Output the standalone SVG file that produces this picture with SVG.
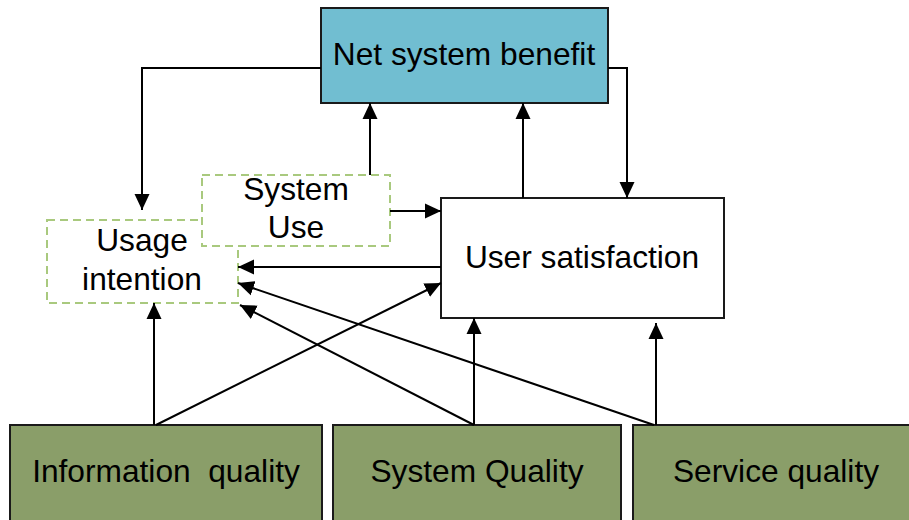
<svg xmlns="http://www.w3.org/2000/svg" width="909" height="520" viewBox="0 0 909 520">
<style>
.t{font-family:"Liberation Sans",Arial,sans-serif;font-size:31.7px;fill:#000;text-anchor:middle}
.pre{white-space:pre}
.solid{stroke:#1a1a1a;stroke-width:2}
.dash{fill:#fff;stroke:#a9c97e;stroke-width:2;stroke-dasharray:8,5}
.green{fill:#8a9e69}
.c{fill:none;stroke:#000;stroke-width:2}
</style>
<defs>
<marker id="ah" viewBox="0 0 16 16" refX="16" refY="8" markerWidth="16" markerHeight="16" markerUnits="userSpaceOnUse" orient="auto">
<polygon points="0,0.5 16,8 0,15.5" fill="#000"/>
</marker>
</defs>
<rect width="909" height="520" fill="#fff"/>
<g id="net-benefit">
<rect x="321" y="8" width="287" height="95" fill="#71bed1" class="solid"/>
<text class="t" x="464" y="65">Net system benefit</text>
</g>
<g id="user-satisfaction">
<rect x="441" y="198" width="283" height="120" fill="#fff" class="solid"/>
<text class="t" x="582" y="268">User satisfaction</text>
</g>
<g id="usage-intention">
<rect x="47" y="220" width="191" height="83" class="dash"/>
<text class="t" x="142" y="251">Usage</text>
<text class="t" x="142" y="290">intention</text>
</g>
<g id="system-use">
<rect x="202" y="175" width="188" height="71" class="dash"/>
<text class="t" x="296" y="200">System</text>
<text class="t" x="296" y="238">Use</text>
</g>
<g id="information-quality">
<rect x="10" y="425" width="312" height="100" class="green solid"/>
<text class="t pre" x="166" y="482" xml:space="preserve">Information  quality</text>
</g>
<g id="system-quality">
<rect x="333" y="425" width="288" height="100" class="green solid"/>
<text class="t" x="477" y="482">System Quality</text>
</g>
<g id="service-quality">
<rect x="633" y="425" width="280" height="100" class="green solid"/>
<text class="t" x="776" y="482">Service quality</text>
</g>
<g id="connectors">
<path class="c" d="M321,68 H142 V210" marker-end="url(#ah)"/>
<path class="c" d="M370,175 V103" marker-end="url(#ah)"/>
<path class="c" d="M608,68 H627 V198" marker-end="url(#ah)"/>
<path class="c" d="M523,198 V103" marker-end="url(#ah)"/>
<path class="c" d="M390,211 H441" marker-end="url(#ah)"/>
<path class="c" d="M441,267 H238" marker-end="url(#ah)"/>
<path class="c" d="M154,425 V303" marker-end="url(#ah)"/>
<path class="c" d="M156,425 L441,283" marker-end="url(#ah)"/>
<path class="c" d="M474,425 V318" marker-end="url(#ah)"/>
<path class="c" d="M474,425 L240,305" marker-end="url(#ah)"/>
<path class="c" d="M656,425 V323" marker-end="url(#ah)"/>
<path class="c" d="M654,425 L238,283" marker-end="url(#ah)"/>
</g>
</svg>
